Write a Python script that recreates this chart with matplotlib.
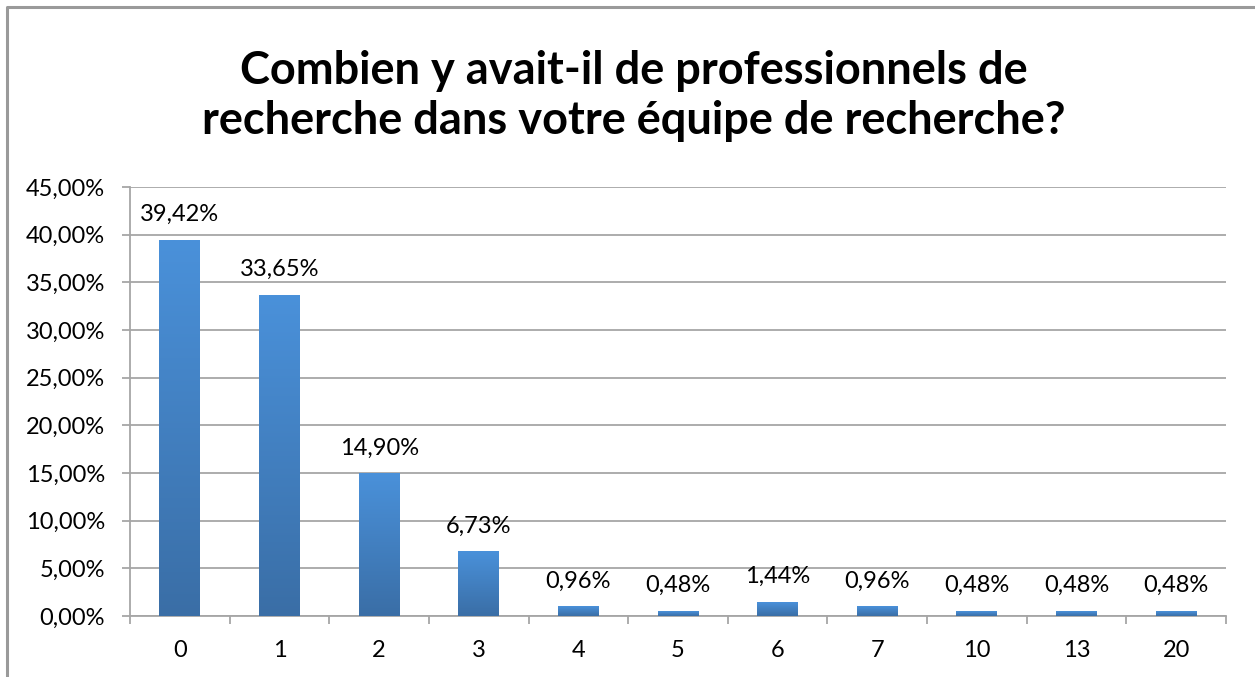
import matplotlib
matplotlib.use("Agg")
import matplotlib.pyplot as plt
import numpy as np
from matplotlib.lines import Line2D
from matplotlib.colors import LinearSegmentedColormap
from matplotlib.ticker import FixedLocator, FuncFormatter

categories = ["0", "1", "2", "3", "4", "5", "6", "7", "10", "13", "20"]
values = [39.42, 33.65, 14.90, 6.73, 0.96, 0.48, 1.44, 0.96, 0.48, 0.48, 0.48]
title = "Combien y avait-il de professionnels de\nrecherche dans votre équipe de recherche?"
yticks = [0, 5, 10, 15, 20, 25, 30, 35, 40, 45]

plt.rcParams['font.family'] = ['Lato', 'DejaVu Sans']

W, H, DPI = 1255, 677, 100
fig = plt.figure(figsize=(W / DPI, H / DPI), dpi=DPI)
fig.patch.set_facecolor("white")

ax = fig.add_axes([130 / W, 1 - 616 / H, (1226 - 130) / W, (616 - 187) / H])

x = np.arange(len(categories))
bars = ax.bar(x, values, width=0.41, color="#4485c9", zorder=3)

cmap = LinearSegmentedColormap.from_list("g", ["#3a6ea6", "#4a91da"])
for b in bars:
    x0, y0 = b.get_x(), b.get_y()
    w, h = b.get_width(), b.get_height()
    grad = np.linspace(0, 1, 256).reshape(-1, 1)
    ax.imshow(grad, extent=(x0, x0 + w, y0, y0 + h), origin="lower",
              cmap=cmap, aspect="auto", zorder=4, interpolation="bilinear")
    ax.text(x0 + w / 2, y0 + h + 1.6, f"{h:.2f}%".replace(".", ","),
            ha="center", va="bottom", fontsize=17, color="black", zorder=5)
ax.set_xlim(-0.5, len(categories) - 0.5)
ax.set_ylim(0, 45)
ax.set_aspect("auto")

ax.set_yticks(yticks)
ax.yaxis.set_major_formatter(FuncFormatter(lambda v, p: f"{v:.2f}%".replace(".", ",")))
ax.grid(axis="y", color="#a6a6a6", linewidth=1.3, zorder=0)
ax.set_axisbelow(True)

ax.set_xticks(x)
ax.set_xticklabels(categories)
ax.xaxis.set_minor_locator(FixedLocator(np.arange(-0.5, len(categories), 1.0)))
ax.tick_params(axis="x", which="major", length=0, pad=17, labelsize=17)
ax.tick_params(axis="x", which="minor", length=6, width=1.3, color="#a6a6a6", direction="out")
ax.tick_params(axis="y", which="major", length=6, width=1.3, color="#a6a6a6", direction="out",
               pad=12, labelsize=17)

for s in ["top", "right"]:
    ax.spines[s].set_visible(False)
for s in ["left", "bottom"]:
    ax.spines[s].set_color("#a6a6a6")
    ax.spines[s].set_linewidth(1.3)

fig.text(634 / W, 1 - 96 / H, title, ha="center", va="center", fontsize=32.5,
         fontweight="bold", linespacing=1.25)

fig.add_artist(Line2D([7 / W, 7 / W, 1.0], [0.0, 1 - 7 / H, 1 - 7 / H],
                      transform=fig.transFigure, color="#9a9a9a", linewidth=2.2))

fig.savefig("out.png", dpi=DPI)
